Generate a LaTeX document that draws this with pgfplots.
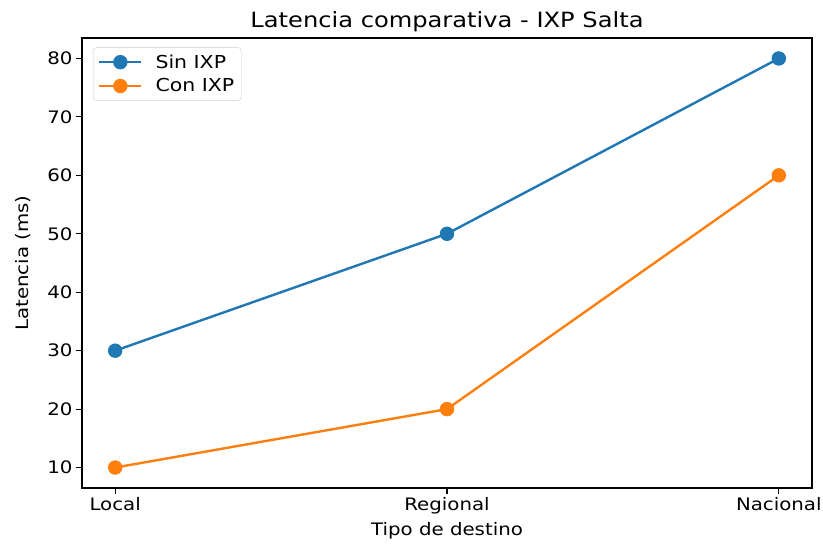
\documentclass[border=0pt]{standalone}
\usepackage{fontspec}
\setmainfont{DejaVu Sans}[FakeStretch=1.15]
\usepackage{pgfplots}
\pgfplotsset{compat=1.18}
\definecolor{mplblue}{HTML}{1F77B4}
\definecolor{mplorange}{HTML}{FF7F0E}
\begin{document}
\begin{tikzpicture}
\useasboundingbox (-82pt,-56pt) rectangle (741pt,488pt);
\begin{axis}[
  scale only axis,
  width=730pt, height=450pt,
  xmin=-0.1, xmax=2.1,
  ymin=6.5, ymax=83.5,
  xtick={0,1,2},
  xticklabels={Local,Regional,Nacional},
  ytick={10,20,30,40,50,60,70,80},
  /pgf/number format/assume math mode=true,
  tick align=outside,
  major tick length=6pt,
  tick style={black, line width=1.1pt},
  axis line style={line width=1.1pt},
  xtick pos=bottom, ytick pos=left,
  ticklabel style={font=\fontsize{17.2}{19}\selectfont},
  xlabel={Tipo de destino},
  ylabel={Latencia (ms)},
  label style={font=\fontsize{17.2}{19}\selectfont},
  ylabel style={yshift=10pt},
  xlabel style={yshift=-1pt},
  title={Latencia comparativa - IXP Salta},
  title style={font=\fontsize{21}{23}\selectfont, yshift=-3pt},
  legend style={at={(0.015,0.979)}, anchor=north west, draw=black!20, rounded corners=3pt,
    font=\fontsize{17.8}{20}\selectfont, inner xsep=5pt, inner ysep=5pt, row sep=5pt},
  legend cell align=left,
  legend image code/.code={\draw[mark repeat=2,mark phase=2,#1] plot coordinates {(0pt,0pt) (21pt,0pt) (42pt,0pt)}; \path (53pt,0pt);},
]
\addplot[mplblue, line width=2.4pt, mark=*, mark size=6pt, mark options={solid}] coordinates {(0,30) (1,50) (2,80)};
\addlegendentry{Sin IXP}
\addplot[mplorange, line width=2.4pt, mark=*, mark size=6pt, mark options={solid}] coordinates {(0,10) (1,20) (2,60)};
\addlegendentry{Con IXP}
\end{axis}
\end{tikzpicture}
\end{document}
